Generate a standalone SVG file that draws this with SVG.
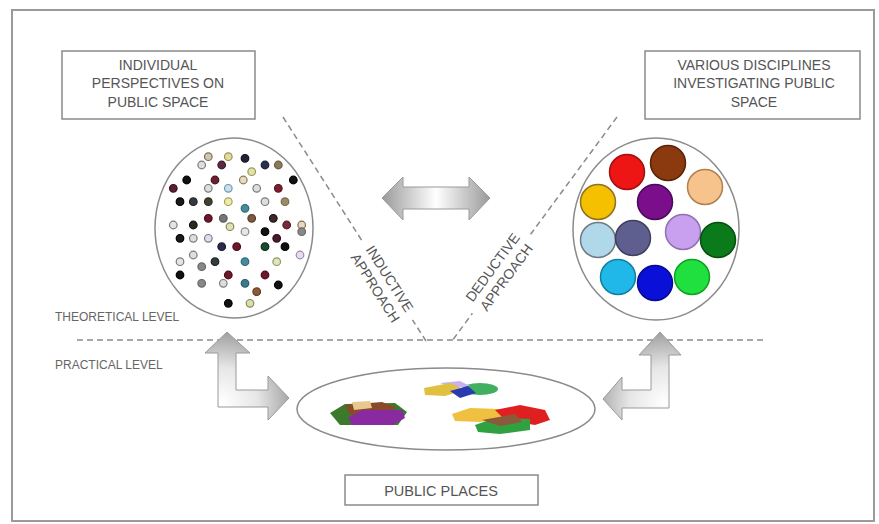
<svg xmlns="http://www.w3.org/2000/svg" width="879" height="524" viewBox="0 0 879 524">
<defs>
<style>
.frame{fill:#fff;stroke:#9a9a9a;stroke-width:2}
.box{fill:#fff;stroke:#8a8a8a;stroke-width:1.5}
.t{font-family:"Liberation Sans",Arial,sans-serif;fill:#555;text-anchor:middle}
.bt{font-size:14px}
.lv{font-family:"Liberation Sans",Arial,sans-serif;fill:#666;font-size:12px}
.ring{fill:#fff;stroke:#8a8a8a;stroke-width:1.5}
.dash{fill:none;stroke:#8a8a8a;stroke-width:1.5;stroke-dasharray:6 4}
.arr{stroke:#9a9a9a;stroke-width:1}
.d{stroke-width:1.2}
.c{stroke-width:1.5}
</style>
<linearGradient id="gh" x1="382" y1="0" x2="490" y2="0" gradientUnits="userSpaceOnUse">
<stop offset="0" stop-color="#9a9a9a"/><stop offset="0.5" stop-color="#ffffff"/><stop offset="1" stop-color="#9a9a9a"/>
</linearGradient>
<radialGradient id="gl" cx="222" cy="403" r="80" gradientUnits="userSpaceOnUse">
<stop offset="0" stop-color="#ffffff"/><stop offset="0.45" stop-color="#e6e6e6"/><stop offset="1" stop-color="#8e8e8e"/>
</radialGradient>
<radialGradient id="gr" cx="665" cy="403" r="80" gradientUnits="userSpaceOnUse">
<stop offset="0" stop-color="#ffffff"/><stop offset="0.45" stop-color="#e6e6e6"/><stop offset="1" stop-color="#8e8e8e"/>
</radialGradient>
</defs>

<rect class="frame" x="12" y="10" width="862" height="511"/>

<g id="connectors">
<line class="dash" x1="77" y1="340" x2="765" y2="340"/>
<line class="dash" x1="283" y1="117" x2="426" y2="341"/>
<line class="dash" x1="617" y1="117" x2="452" y2="341"/>
<path id="double-arrow" class="arr" fill="url(#gh)" d="M382,198 L403,177 L403,187 L469,187 L469,177 L490,198 L469,220 L469,209 L403,209 L403,220 Z"/>
<path id="bent-arrow-left" class="arr" fill="url(#gl)" d="M227,332 L250,353 L236,353 L236,390 L268,390 L268,376 L289,398 L268,420 L268,407 L218,407 L218,353 L205,353 Z"/>
<path id="bent-arrow-right" class="arr" fill="url(#gr)" d="M660,332 L681,355 L669,355 L669,408 L622,408 L622,420 L603,399 L622,377 L622,390 L651,390 L651,355 L639,355 Z"/>
</g>

<g id="inductive-label" transform="translate(383,283) rotate(57.6)">
<rect x="-47" y="-16" width="94" height="34" fill="#fff"/>
<text class="t" font-size="14" y="-3">INDUCTIVE</text>
<text class="t" font-size="14" y="14">APPROACH</text>
</g>
<g id="deductive-label" transform="translate(499,272) rotate(-53.7)">
<rect x="-49" y="-16" width="98" height="34" fill="#fff"/>
<text class="t" font-size="14" y="-3">DEDUCTIVE</text>
<text class="t" font-size="14" y="14">APPROACH</text>
</g>

<g id="box-individual">
<rect class="box" x="62" y="51" width="193" height="68"/>
<text class="t bt" x="158" y="70">INDIVIDUAL</text>
<text class="t bt" x="158" y="88">PERSPECTIVES ON</text>
<text class="t bt" x="158" y="107">PUBLIC SPACE</text>
</g>

<g id="box-disciplines">
<rect class="box" x="645" y="51" width="215" height="68"/>
<text class="t bt" x="754" y="70">VARIOUS DISCIPLINES</text>
<text class="t bt" x="754" y="88">INVESTIGATING PUBLIC</text>
<text class="t bt" x="754" y="107">SPACE</text>
</g>

<g id="levels">
<text class="lv" x="55" y="321">THEORETICAL LEVEL</text>
<text class="lv" x="55" y="369" font-size="11.3">PRACTICAL LEVEL</text>
</g>

<g id="individual-circle">
<ellipse class="ring" cx="234" cy="228" rx="79" ry="90"/>
<g class="d">
<circle cx="208.3" cy="156.7" r="3.8" fill="#cfc6b0" stroke="#7a6f5a"/>
<circle cx="228.3" cy="156.7" r="3.8" fill="#e0dba0" stroke="#9a9050"/>
<circle cx="245" cy="158.3" r="3.8" fill="#223" stroke="#112"/>
<circle cx="221.7" cy="165" r="3.8" fill="#5a2a40" stroke="#3a1a2a"/>
<circle cx="201.7" cy="165" r="3.8" fill="#ddd" stroke="#7a7a7a"/>
<circle cx="265" cy="165" r="3.8" fill="#2a3050" stroke="#1a2030"/>
<circle cx="278.3" cy="165" r="3.8" fill="#8a7a5a" stroke="#6a5a3a"/>
<circle cx="186.7" cy="180" r="3.8" fill="#111" stroke="#000"/>
<circle cx="215" cy="180" r="3.8" fill="#6a2030" stroke="#4a1020"/>
<circle cx="243.3" cy="180" r="3.8" fill="#e8dcc0" stroke="#8a7a5a"/>
<circle cx="251.7" cy="171.7" r="3.8" fill="#e0e0b0" stroke="#9a9a50"/>
<circle cx="293.3" cy="180" r="3.8" fill="#111" stroke="#000"/>
<circle cx="173.3" cy="188.3" r="3.8" fill="#5a2030" stroke="#3a1020"/>
<circle cx="208.3" cy="188.3" r="3.8" fill="#ddd" stroke="#7a7a7a"/>
<circle cx="228.3" cy="188.3" r="3.8" fill="#cde" stroke="#6a9aaa"/>
<circle cx="256.7" cy="188.3" r="3.8" fill="#ddd" stroke="#7a7a7a"/>
<circle cx="278.3" cy="188.3" r="3.8" fill="#7a2030" stroke="#5a1020"/>
<circle cx="180" cy="201.7" r="3.8" fill="#1a1a1a" stroke="#000"/>
<circle cx="193.3" cy="201.7" r="3.8" fill="#333a40" stroke="#222"/>
<circle cx="208.3" cy="201.7" r="3.8" fill="#444030" stroke="#2a2a1a"/>
<circle cx="228.3" cy="201.7" r="3.8" fill="#ececb0" stroke="#aaa050"/>
<circle cx="245" cy="208.3" r="3.8" fill="#4a8a9a" stroke="#2a6a7a"/>
<circle cx="265" cy="201.7" r="3.8" fill="#ddd" stroke="#7a7a7a"/>
<circle cx="285" cy="201.7" r="3.8" fill="#9a8a6a" stroke="#7a6a4a"/>
<circle cx="173.3" cy="225" r="3.8" fill="#e4e4e4" stroke="#7a7a7a"/>
<circle cx="193.3" cy="225" r="3.8" fill="#2a2a20" stroke="#111"/>
<circle cx="208.3" cy="218.3" r="3.8" fill="#6a1a2a" stroke="#4a0a1a"/>
<circle cx="223.3" cy="218.3" r="3.8" fill="#777" stroke="#555"/>
<circle cx="230" cy="226.7" r="3.8" fill="#e0e0b8" stroke="#8a8a50"/>
<circle cx="251.7" cy="218.3" r="3.8" fill="#7a5a40" stroke="#5a3a20"/>
<circle cx="273.3" cy="218.3" r="3.8" fill="#3a2a2a" stroke="#1a1010"/>
<circle cx="286.7" cy="225" r="3.8" fill="#7a2a3a" stroke="#5a1a2a"/>
<circle cx="301.7" cy="225" r="3.8" fill="#e8d8c0" stroke="#8a6a4a"/>
<circle cx="301.7" cy="231.7" r="3.8" fill="#888" stroke="#666"/>
<circle cx="180" cy="238.3" r="3.8" fill="#1a1a1a" stroke="#000"/>
<circle cx="193.3" cy="238.3" r="3.8" fill="#ddd" stroke="#7a7a7a"/>
<circle cx="208.3" cy="238.3" r="3.8" fill="#dde" stroke="#7a7a8a"/>
<circle cx="245" cy="231.7" r="3.8" fill="#e6e6e6" stroke="#8a8a8a"/>
<circle cx="265" cy="231.7" r="3.8" fill="#111" stroke="#000"/>
<circle cx="276.7" cy="238.3" r="3.8" fill="#4a1a2a" stroke="#2a0a1a"/>
<circle cx="221.7" cy="246.7" r="3.8" fill="#2a2a50" stroke="#1a1a30"/>
<circle cx="236.7" cy="246.7" r="3.8" fill="#6a1a2a" stroke="#4a0a1a"/>
<circle cx="265" cy="246.7" r="3.8" fill="#1a4a30" stroke="#0a2a1a"/>
<circle cx="285" cy="246.7" r="3.8" fill="#111" stroke="#000"/>
<circle cx="193.3" cy="255" r="3.8" fill="#ddd" stroke="#7a7a7a"/>
<circle cx="180" cy="261.7" r="3.8" fill="#e4e4e4" stroke="#7a7a7a"/>
<circle cx="215" cy="261.7" r="3.8" fill="#333a40" stroke="#1a2020"/>
<circle cx="245" cy="261.7" r="3.8" fill="#4a8a9a" stroke="#2a6a7a"/>
<circle cx="276.7" cy="261.7" r="3.8" fill="#e0e4c0" stroke="#8a9a60"/>
<circle cx="300" cy="255" r="3.8" fill="#e8dcec" stroke="#9a8aaa"/>
<circle cx="180" cy="275" r="3.8" fill="#111" stroke="#000"/>
<circle cx="201.7" cy="266.7" r="3.8" fill="#888" stroke="#666"/>
<circle cx="228.3" cy="275" r="3.8" fill="#6a1a2a" stroke="#4a0a1a"/>
<circle cx="265" cy="275" r="3.8" fill="#6a1a2a" stroke="#4a0a1a"/>
<circle cx="278.3" cy="285" r="3.8" fill="#111" stroke="#000"/>
<circle cx="201.7" cy="283.3" r="3.8" fill="#888" stroke="#666"/>
<circle cx="223.3" cy="283.3" r="3.8" fill="#ddd" stroke="#7a7a7a"/>
<circle cx="245" cy="283.3" r="3.8" fill="#3a7a8a" stroke="#2a5a6a"/>
<circle cx="256.7" cy="291.7" r="3.8" fill="#8a5a3a" stroke="#6a3a1a"/>
<circle cx="228.3" cy="303.3" r="3.8" fill="#111" stroke="#000"/>
<circle cx="250" cy="303.3" r="3.8" fill="#dcdcb0" stroke="#8a8a50"/>
</g>
</g>

<g id="disciplines-circle">
<ellipse class="ring" cx="656" cy="229" rx="83" ry="91"/>
<g class="c">
<circle cx="627" cy="172" r="17.5" fill="#ee1515" stroke="#a01010"/>
<circle cx="668" cy="163" r="17.5" fill="#8b3a0f" stroke="#5a2208"/>
<circle cx="705" cy="187" r="17.5" fill="#f6c38c" stroke="#b08050"/>
<circle cx="598" cy="202" r="17.5" fill="#f5c000" stroke="#907020"/>
<circle cx="655" cy="202" r="17.5" fill="#7b0e8a" stroke="#4a0a5a"/>
<circle cx="598" cy="240" r="17.5" fill="#b0d8e8" stroke="#707a80"/>
<circle cx="633" cy="238" r="17.5" fill="#5f5f8f" stroke="#404060"/>
<circle cx="683" cy="232" r="17.5" fill="#c9a0f0" stroke="#9070b0"/>
<circle cx="718" cy="240" r="17.5" fill="#0a7a1a" stroke="#065010"/>
<circle cx="618" cy="277" r="17.5" fill="#20b8e8" stroke="#1080a0"/>
<circle cx="655" cy="283" r="17.5" fill="#0a10d8" stroke="#060a90"/>
<circle cx="692" cy="277" r="17.5" fill="#20e040" stroke="#10a020"/>
</g>
</g>

<g id="public-places-ellipse">
<ellipse class="ring" cx="446" cy="409" rx="149" ry="41"/>
<g id="blob-left">
<polygon points="330,413 345,404 395,403 407,412 398,425 340,425" fill="#3a7a2a"/>
<polygon points="345,405 382,402 396,407 386,415 350,415" fill="#8a4a2a"/>
<polygon points="352,402 370,401 372,408 354,410" fill="#e8c890"/>
<polygon points="348,418 362,410 402,410 405,418 393,425 352,425" fill="#8a2aa0"/>
</g>
<g id="blob-center">
<ellipse cx="480" cy="389" rx="18" ry="6" fill="#40b060"/>
<polygon points="440,383 460,381 470,386 455,388" fill="#c8b0f0"/>
<polygon points="424,388 450,383 465,390 445,396 425,395" fill="#e0c040"/>
<polygon points="450,391 468,386 476,393 460,398" fill="#2a3ab0"/>
</g>
<g id="blob-right">
<polygon points="452,414 470,408 500,409 505,418 480,422 455,421" fill="#f0c040"/>
<polygon points="495,410 520,405 545,410 550,420 535,425 505,420" fill="#e02020"/>
<polygon points="475,425 495,418 530,419 530,430 500,434 478,432" fill="#30a040"/>
<polygon points="482,420 515,414 522,422 500,426" fill="#8a5a3a"/>
</g>
</g>

<g id="box-public-places">
<rect class="box" x="345" y="475" width="193" height="30"/>
<text class="t" font-size="14.5" x="441" y="496">PUBLIC PLACES</text>
</g>
</svg>
